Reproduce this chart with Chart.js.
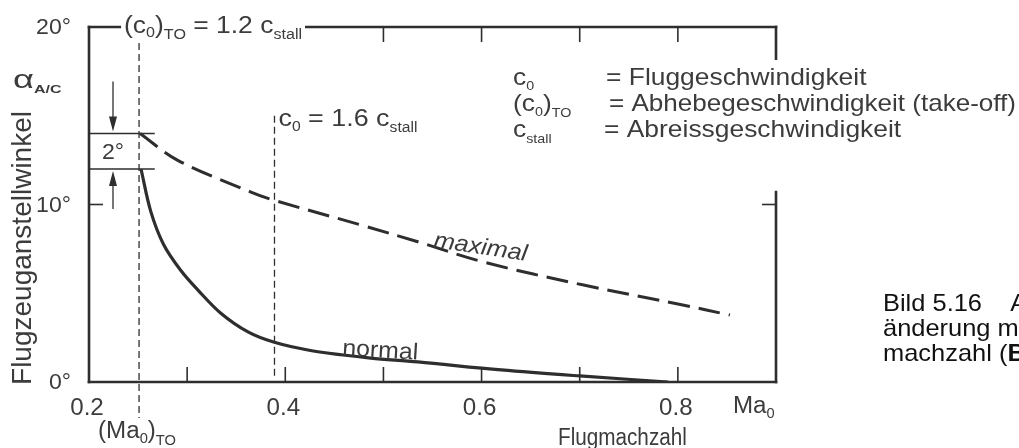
<!DOCTYPE html>
<html>
<head>
<meta charset="utf-8">
<script src="https://cdn.jsdelivr.net/npm/chart.js@4.4.1/dist/chart.umd.min.js"></script>
<style>
html, body { margin: 0; padding: 0; background: #fff; }
</style>
</head>
<body>
<canvas id="chart" width="1019" height="448"></canvas>
<script>
// Flugmachzahl Ma_0 (x) gegen Flugzeuganstellwinkel alpha in Grad (y)
var normalMa    = [0.253, 0.263, 0.276, 0.294, 0.311, 0.334, 0.362, 0.388, 0.423, 0.459, 0.487, 0.535, 0.62, 0.70, 0.79];
var normalAlpha = [12.0, 9.6, 7.75, 6.25, 5.18, 3.89, 2.82, 2.25, 1.8, 1.52, 1.35, 1.13, 0.68, 0.34, 0.0];
var maxMa    = [0.252, 0.29, 0.365, 0.388, 0.48, 0.535, 0.602, 0.704, 0.805, 0.853];
var maxAlpha = [14.0, 12.5, 10.7, 10.25, 8.8, 7.9, 6.76, 5.46, 4.34, 3.77];

var xTickValues = [0.3, 0.4, 0.5, 0.6, 0.7, 0.8];
var xTopTickValues = [0.5, 0.6, 0.7, 0.8];
var xLabelValues = [0.2, 0.4, 0.6, 0.8];
var xLabels = ['0.2', '0.4', '0.6', '0.8'];
var yLabelValues = [0, 10, 20];
var yLabels = ['0°', '10°', '20°'];

var maTakeOff = 0.251;     // (c0)TO = 1.2 c_stall
var maStall16 = 0.389;     // c0 = 1.6 c_stall
var boxAlpha = [12, 14];   // 2° Spanne

var INK = '#2e2e2e';
var TXT = '#3c3c3c';
var FONT = '"Liberation Sans", Arial, sans-serif';

function pts(xs, ys) {
    return xs.map(function (x, i) { return { x: x, y: ys[i] }; });
}

// text with subscripts; parts = [text, size, dy, style]
function rich(ctx, parts, x, y, sx, bg) {
    ctx.save();
    var w = 0, maxS = 0;
    parts.forEach(function (p) {
        ctx.font = (p[3] || '') + ' ' + p[1] + 'px ' + FONT;
        w += ctx.measureText(p[0]).width;
        maxS = Math.max(maxS, p[1]);
    });
    if (bg) {
        ctx.fillStyle = '#fff';
        ctx.fillRect(x - 3, y - maxS * 0.85, w * sx + 6, maxS * 1.25);
    }
    ctx.translate(x, y);
    ctx.scale(sx, 1);
    var cx = 0;
    ctx.fillStyle = ctx._txt || TXT;
    parts.forEach(function (p) {
        ctx.font = (p[3] || '') + ' ' + p[1] + 'px ' + FONT;
        ctx.fillText(p[0], cx, p[2] || 0);
        cx += ctx.measureText(p[0]).width;
    });
    ctx.restore();
    return w * sx;
}

function textWidth(ctx, str, size, sx) {
    ctx.font = size + 'px ' + FONT;
    return ctx.measureText(str).width * sx;
}

function line(ctx, x1, y1, x2, y2) {
    ctx.beginPath();
    ctx.moveTo(x1, y1);
    ctx.lineTo(x2, y2);
    ctx.stroke();
}

function arrow(ctx, x, yFrom, yTip) {
    var dir = yTip > yFrom ? 1 : -1;
    line(ctx, x, yFrom, x, yTip - dir * 12);
    ctx.beginPath();
    ctx.moveTo(x, yTip);
    ctx.lineTo(x - 4, yTip - dir * 15);
    ctx.lineTo(x + 4, yTip - dir * 15);
    ctx.closePath();
    ctx.fill();
}

var framePlugin = {
    id: 'frame',
    beforeDatasetsDraw: function (chart) {
        var ctx = chart.ctx, xs = chart.scales.x, ys = chart.scales.y, a = chart.chartArea;
        ctx.save();
        ctx.strokeStyle = INK;
        ctx.fillStyle = INK;

        // frame
        ctx.lineWidth = 2.6;
        ctx.lineCap = 'square';
        line(ctx, a.left, a.top, a.left, a.bottom);
        line(ctx, a.left, a.bottom, a.right, a.bottom);
        line(ctx, a.left, a.top, a.right, a.top);
        line(ctx, a.right, a.top, a.right, ys.getPixelForValue(16.5));
        line(ctx, a.right, ys.getPixelForValue(10.7), a.right, a.bottom);

        // ticks (inward)
        ctx.lineWidth = 1.6;
        ctx.lineCap = 'butt';
        xTickValues.forEach(function (v) {
            var px = xs.getPixelForValue(v);
            line(ctx, px, a.bottom, px, a.bottom - 15);
        });
        xTopTickValues.forEach(function (v) {
            var px = xs.getPixelForValue(v);
            line(ctx, px, a.top, px, a.top + 15);
        });
        var y10 = ys.getPixelForValue(10);
        line(ctx, a.left, y10, a.left + 14, y10);
        line(ctx, a.right, y10, a.right - 14, y10);

        // dashed verticals
        ctx.lineWidth = 1.3;
        ctx.setLineDash([7, 4]);
        var xTO = xs.getPixelForValue(maTakeOff);
        line(ctx, xTO, a.top + 16, xTO, a.bottom + 36);
        var x16 = xs.getPixelForValue(maStall16);
        line(ctx, x16, ys.getPixelForValue(15.0), x16, a.bottom - 5);
        ctx.setLineDash([]);

        // 2° band
        var yLo = ys.getPixelForValue(boxAlpha[0]), yHi = ys.getPixelForValue(boxAlpha[1]);
        var xBoxEnd = xs.getPixelForValue(0.267);
        ctx.lineWidth = 1.3;
        line(ctx, a.left, yHi, xBoxEnd, yHi);
        line(ctx, a.left, yLo, xBoxEnd, yLo);
        var xArr = a.left + 24;
        arrow(ctx, xArr, yHi - 52, yHi - 2);
        arrow(ctx, xArr, yLo + 40, yLo + 2);
        ctx.restore();
    },
    afterDatasetsDraw: function (chart) {
        var ctx = chart.ctx, xs = chart.scales.x, ys = chart.scales.y, a = chart.chartArea;
        ctx.save();
        ctx.textBaseline = 'alphabetic';
        ctx.textAlign = 'left';

        // y tick labels
        yLabelValues.forEach(function (v, i) {
            var w = textWidth(ctx, yLabels[i], 22, 1.05);
            rich(ctx, [[yLabels[i], 22]], a.left - 18 - w, ys.getPixelForValue(v) + 7, 1.05);
        });
        // x tick labels
        xLabelValues.forEach(function (v, i) {
            var w = textWidth(ctx, xLabels[i], 23, 1.05);
            rich(ctx, [[xLabels[i], 23]], xs.getPixelForValue(v) - w / 2 - 2, a.bottom + 33, 1.05);
        });

        // 2°
        var yLo = ys.getPixelForValue(boxAlpha[0]), yHi = ys.getPixelForValue(boxAlpha[1]);
        rich(ctx, [['2°', 22]], a.left + 13, (yLo + yHi) / 2 + 8, 1.05);

        // alpha_A/C and axis titles
        rich(ctx, [['α', 25], ['A/C', 11, 5, 'bold']], 13, 88, 1.45);
        ctx.save();
        ctx.translate(31, 248);
        ctx.rotate(-Math.PI / 2);
        ctx.font = '28px ' + FONT;
        ctx.textAlign = 'center';
        ctx.fillStyle = TXT;
        ctx.fillText('Flugzeuganstellwinkel', 0, 0);
        ctx.restore();

        rich(ctx, [['(Ma', 23], ['0', 14, 5], [')', 23], ['TO', 14, 7]], xs.getPixelForValue(maTakeOff) - 41, a.bottom + 56, 1.05);
        rich(ctx, [['Ma', 23], ['0', 14, 5]], a.right - 43, a.bottom + 31, 1.05);
        rich(ctx, [['Flugmachzahl', 23]], 558, a.bottom + 63, 0.9);

        // annotations on the frame
        rich(ctx, [['(c', 23], ['0', 14, 4], [')', 23], ['TO', 14, 6], [' = 1.2 c', 23], ['stall', 14, 6]],
            xs.getPixelForValue(maTakeOff) - 15, a.top + 6, 1.15, true);
        rich(ctx, [['c', 24], ['0', 14, 5], [' = 1.6 c', 24], ['stall', 14, 6]],
            xs.getPixelForValue(maStall16) + 4, ys.getPixelForValue(14.4), 1.12);

        // curve labels
        ctx.save();
        ctx.translate(433, 247);
        ctx.rotate(8.4 * Math.PI / 180);
        rich(ctx, [['maximal', 23, 0, 'italic']], 0, 0, 1.1);
        ctx.restore();
        ctx.save();
        ctx.translate(342, 355);
        ctx.rotate(3.5 * Math.PI / 180);
        rich(ctx, [['normal', 23]], 0, 0, 1.08);
        ctx.restore();

        // symbol legend
        ctx.fillStyle = '#fff';
        ctx.fillRect(505, 60, 514, 88);
        var lx = 513, ex = 606, b = [85, 111, 137];
        rich(ctx, [['c', 24], ['0', 13, 5]], lx, b[0], 1.1);
        rich(ctx, [['(c', 24], ['0', 13, 5], [')', 24], ['TO', 13, 6]], lx, b[1], 1.1);
        rich(ctx, [['c', 24], ['stall', 13, 6]], lx, b[2], 1.1);
        rich(ctx, [['= Fluggeschwindigkeit', 24]], ex, b[0], 1.1);
        rich(ctx, [['= Abhebegeschwindigkeit (take-off)', 24]], ex + 3, b[1], 1.085);
        rich(ctx, [['= Abreissgeschwindigkeit', 24]], ex - 2, b[2], 1.1);

        // caption (cut by the page edge)
        ctx._txt = '#111';
        rich(ctx, [['Bild 5.16    A', 24]], 883, 311, 1.06);
        rich(ctx, [['änderung m', 24]], 883, 336, 1.06);
        rich(ctx, [['machzahl (', 24], ['B', 24, 0, 'bold']], 883, 361, 1.06);
        ctx._txt = null;
        ctx.restore();
    }
};

var ctx = document.getElementById('chart');
new Chart(ctx, {
    type: 'line',
    data: {
        datasets: [{
            label: 'normal',
            data: pts(normalMa, normalAlpha),
            borderColor: INK,
            borderWidth: 3.2,
            pointRadius: 0,
            tension: 0.35,
            fill: false
        }, {
            label: 'maximal',
            data: pts(maxMa, maxAlpha),
            borderColor: INK,
            borderWidth: 3,
            borderDash: [22, 9],
            pointRadius: 0,
            tension: 0.35,
            fill: false
        }]
    },
    options: {
        responsive: false,
        animation: false,
        devicePixelRatio: 1,
        layout: { padding: { left: 89, right: 243, top: 27, bottom: 66 } },
        plugins: {
            legend: { display: false },
            tooltip: { enabled: false }
        },
        scales: {
            x: { type: 'linear', min: 0.2, max: 0.9, display: false },
            y: { min: 0, max: 20, display: false }
        }
    },
    plugins: [framePlugin]
});
</script>
</body>
</html>
